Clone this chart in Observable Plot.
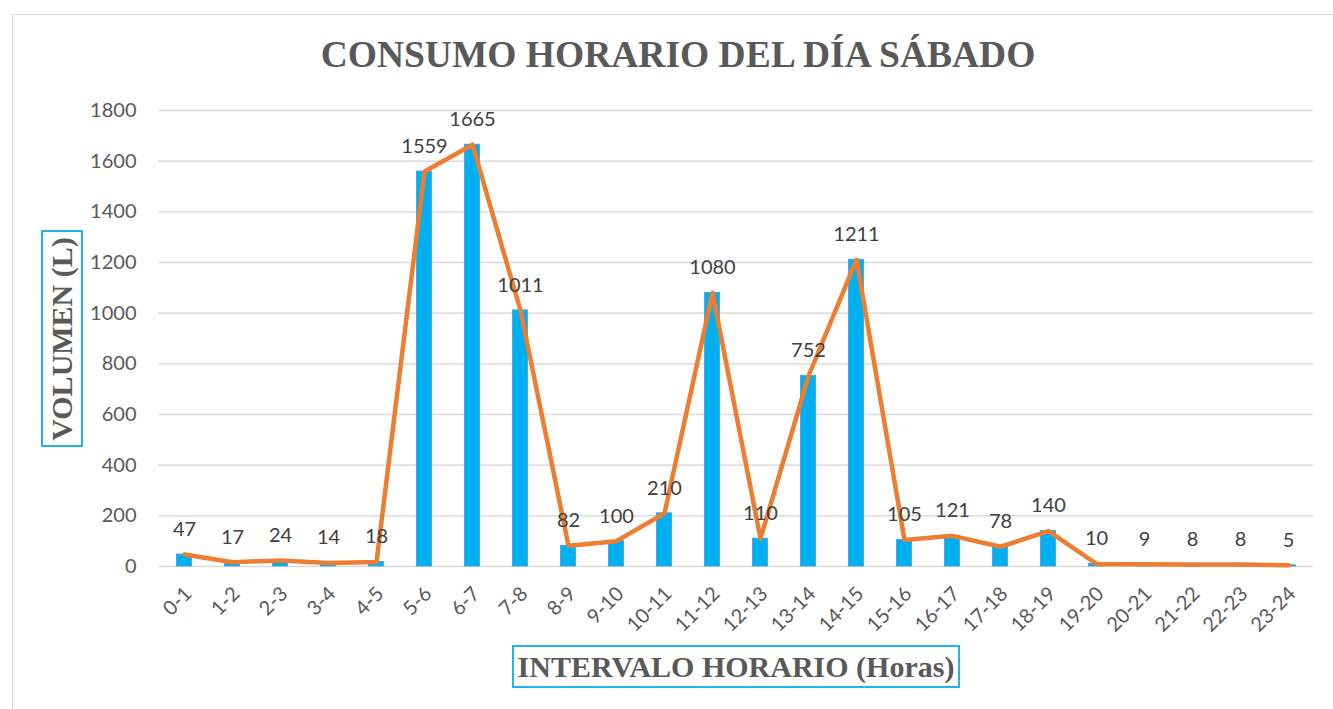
<!DOCTYPE html>
<html>
<head>
<meta charset="utf-8">
<script src="https://cdn.jsdelivr.net/npm/d3@7"></script>
<script src="https://cdn.jsdelivr.net/npm/@observablehq/plot@0.6"></script>
<style>
  html, body { margin: 0; padding: 0; background: #fff; }
  #wrap { position: relative; width: 1333px; height: 709px; overflow: hidden; }
  #frame { position: absolute; left: 12px; top: 14px; width: 1400px; height: 800px; border: 1.5px solid #d9d9d9; box-sizing: border-box; }
  #title { position: absolute; left: 0; width: 1356px; top: 33px; text-align: center; font-family: "Liberation Serif", serif; font-weight: bold; font-size: 37.5px; color: #595959; }
  #ytitle { position: absolute; left: 41px; top: 230px; width: 42px; height: 217px; border: 2px solid #1fb5ec; box-sizing: border-box; }
  #ytitle span { position: absolute; left: 50%; top: 50%; transform: translate(-50%, -50%) rotate(-90deg); white-space: nowrap; font-family: "Liberation Serif", serif; font-weight: bold; font-size: 30px; color: #595959; }
  #xtitle { position: absolute; left: 512px; top: 645px; width: 448px; height: 43px; border: 2px solid #1fb5ec; box-sizing: border-box; text-align: center; line-height: 40px; font-family: "Liberation Serif", serif; font-weight: bold; font-size: 30px; color: #595959; white-space: nowrap; }
  #chart { position: absolute; left: 0; top: 0; }
</style>
</head>
<body>
<div id="wrap">
  <div id="frame"></div>
  <div id="chart"></div>
  <div id="title">CONSUMO HORARIO DEL DÍA SÁBADO</div>
  <div id="ytitle"><span>VOLUMEN (L)</span></div>
  <div id="xtitle">INTERVALO HORARIO (Horas)</div>
</div>
<script>
const intervals = ["0-1","1-2","2-3","3-4","4-5","5-6","6-7","7-8","8-9","9-10","10-11","11-12","12-13","13-14","14-15","15-16","16-17","17-18","18-19","19-20","20-21","21-22","22-23","23-24"];
const volumes = [47,17,24,14,18,1559,1665,1011,82,100,210,1080,110,752,1211,105,121,78,140,10,9,8,8,5];
const yTicks = [0,200,400,600,800,1000,1200,1400,1600,1800];

const data = intervals.map((k, i) => ({interval: k, volume: volumes[i]}));

const chart = Plot.plot({
  width: 1333,
  height: 709,
  marginTop: 110,
  marginBottom: 143,
  marginLeft: 158,
  marginRight: 20,
  style: {fontFamily: "Lato, 'Open Sans', sans-serif", color: "#595959", background: "transparent"},
  x: {type: "band", domain: intervals, padding: 0},
  y: {domain: [0, 1800]},
  marks: [
    Plot.gridY(yTicks, {stroke: "#d9d9d9", strokeOpacity: 1, strokeWidth: 1.5}),
    Plot.axisY(yTicks, {tickSize: 0, tickPadding: 22, fontSize: 20, label: null, fill: "#595959", tickFormat: d => String(d)}),
    Plot.axisX({tickSize: 0, tickRotate: -45, tickPadding: 24, dx: 4, fontSize: 20, label: null, fill: "#595959"}),
    Plot.barY(data, {x: "interval", y: "volume", fill: "#00b0f0", stroke: "#3fa0dc", strokeWidth: 0.8, insetLeft: 16.5, insetRight: 16.5}),
    Plot.line(data, {x: "interval", y: "volume", stroke: "#ed7d31", strokeWidth: 4.5, strokeLinejoin: "round", strokeLinecap: "round"}),
    Plot.text(data, {x: "interval", y: "volume", text: d => String(d.volume), dy: -25, lineAnchor: "middle", fontSize: 20, fill: "#404040"})
  ]
});
document.getElementById("chart").appendChild(chart);
</script>
</body>
</html>
